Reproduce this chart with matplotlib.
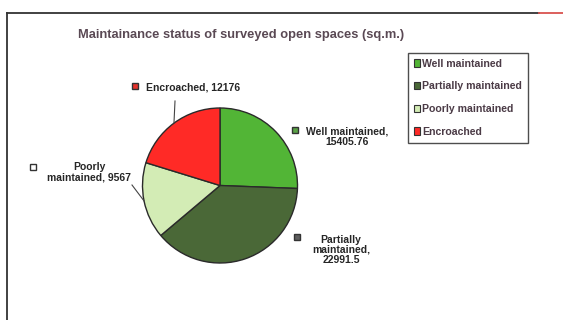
import numpy as np
import matplotlib
matplotlib.use("Agg")
import matplotlib.pyplot as plt
from matplotlib.patches import Patch
from matplotlib.lines import Line2D

# open space maintenance survey (sq.m.)
categories = ["Well maintained", "Partially maintained", "Poorly maintained", "Encroached"]
areas = [15405.76, 22991.5, 9567, 12176]
colors = ["#52b536", "#4a6837", "#d3ecb5", "#ff2a26"]
marker_fill = ["#5aa246", "#5e5e5e", "#ffffff", "#e8332c"]
slice_labels = ["Well maintained,\n15405.76", "Partially\nmaintained,\n22991.5",
                "Poorly\nmaintained, 9567", "Encroached, 12176"]

plt.rcParams['font.family'] = ['Liberation Sans', 'DejaVu Sans']
plt.rcParams['font.weight'] = 'bold'

W, H = 563, 320
fig = plt.figure(figsize=(W / 100, H / 100), dpi=100)
ax = fig.add_axes([0, 0, 1, 1])
ax.set_aspect('equal')
ax.axis('off')

cx, cy, r = 220, H - 185.5, 77.5
wedges, _ = ax.pie(areas, colors=colors, startangle=90, counterclock=False,
                   center=(cx, cy), radius=r,
                   wedgeprops=dict(edgecolor="#2a2a2a", linewidth=1.0))
ax.set_xlim(0, W)
ax.set_ylim(0, H)

txt_col = "#262626"
# label centers and marker spots, in px from top-left
lab_pos = [(347, 137), (341, 250), (89, 172), (193, 88)]
mark_pos = [(295, 130), (297, 237), (33, 167), (135, 86)]

for i, w in enumerate(wedges):
    ax.text(lab_pos[i][0], H - lab_pos[i][1], slice_labels[i], ha="center", va="center",
            fontsize=7.5, color=txt_col, linespacing=1.0)
    ax.plot(mark_pos[i][0], H - mark_pos[i][1], marker='s', ms=4.5,
            mfc=marker_fill[i], mec="#333333", mew=1)

# leader lines for the left-hand slices
for i, end in [(3, (175, 101)), (2, (132, 185))]:
    w = wedges[i]
    mid = np.deg2rad((w.theta1 + w.theta2) / 2)
    px, py = cx + r * np.cos(mid), cy + r * np.sin(mid)
    ax.plot([end[0], px], [H - end[1], py], color="#444444", lw=0.8)

fig.text(241 / W, 1 - 35 / H, "Maintainance status of surveyed open spaces (sq.m.)",
         ha="center", va="center", fontsize=9.3, color="#5a4954", fontweight="bold")

handles = [Patch(facecolor=c, edgecolor="#333333", linewidth=0.8) for c in colors]
leg = fig.legend(handles, categories, loc="upper left",
                 bbox_to_anchor=(408 / W, 1 - 53 / H), bbox_transform=fig.transFigure,
                 frameon=True, fancybox=False, fontsize=7.6, handlelength=0.6,
                 handleheight=0.7, handletextpad=0.2, labelspacing=1.2,
                 borderpad=0.55, borderaxespad=0)
leg.get_frame().set_edgecolor("#222222")
leg.get_frame().set_linewidth(1.0)
for t in leg.get_texts():
    t.set_color("#4b3b46")

# outer chart border
fig.add_artist(Line2D([7 / W, 7 / W], [0, 1 - 13 / H], transform=fig.transFigure,
                      color="#333333", lw=1.3))
fig.add_artist(Line2D([7 / W, 539 / W], [1 - 13 / H, 1 - 13 / H], transform=fig.transFigure,
                      color="#333333", lw=1.3))
fig.add_artist(Line2D([539 / W, 1], [1 - 13 / H, 1 - 13 / H], transform=fig.transFigure,
                      color="#d9534f", lw=1.3))

fig.savefig("out.png", dpi=100)
